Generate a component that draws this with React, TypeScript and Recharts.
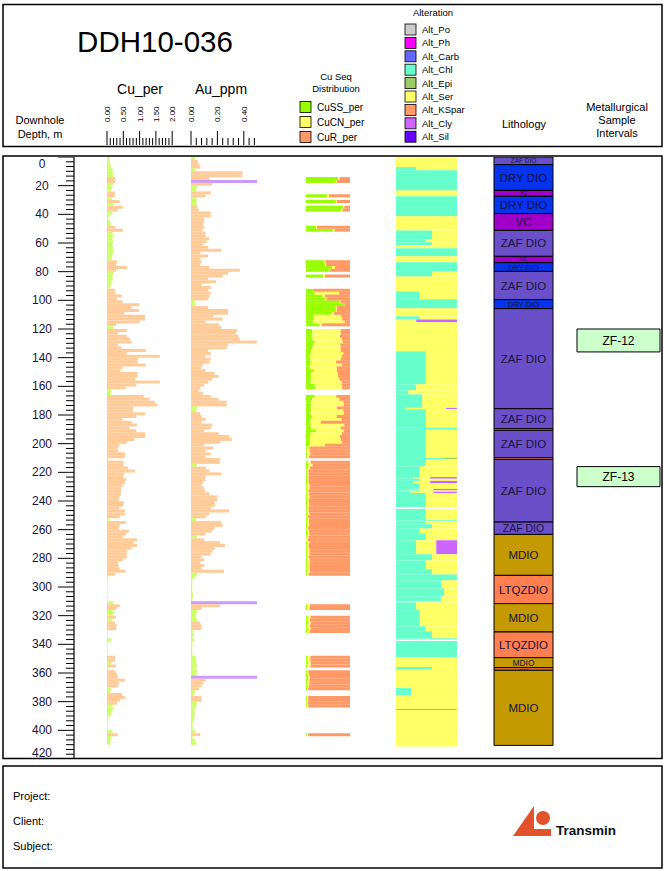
import React from "react";
import { ComposedChart, Bar, Cell, XAxis, YAxis, ReferenceArea } from "recharts";

const FONT = "'Liberation Sans', Arial, Helvetica, sans-serif";

// downhole depth, m
const DEPTH_LABELS = [0, 20, 40, 60, 80, 100, 120, 140, 160, 180, 200, 220, 240, 260, 280, 300, 320, 340, 360, 380, 400, 420];
const DEPTH_MINOR = 6; // subdivisions between labelled depths

// assays, 2 m composites starting at 0 m
const SAMPLE_LEN = 2;
const CU_PER = [
  0.07, 0.08, 0.10, 0.12, 0.17, 0.18, 0.19, 0.25, 0.25, 0.19,
  0.14, 0.12, 0.25, 0.24, 0.15, 0.39, 0.19, 0.49, 0.33, 0.17,
  0.07, 0.04, 0.10, 0.12, 0.25, 0.49, 0.17, 0.18, 0.17, 0.18,
  0.16, 0.18, 0.19, 0.18, 0.16, 0.16, 0.31, 0.28, 0.61, 0.28,
  0.19, 0.16, 0.18, 0.14, 0.12, 0.08, 0.25, 0.25, 0.45, 0.31,
  0.48, 1.00, 0.74, 0.98, 0.53, 1.17, 1.17, 1.00, 0.28, 0.19,
  0.61, 0.33, 0.61, 0.70, 0.76, 0.33, 0.43, 1.20, 0.61, 1.62,
  0.94, 0.94, 1.19, 0.48, 0.41, 0.94, 0.94, 0.86, 1.62, 0.90,
  0.58, 0.14, 0.12, 1.12, 1.31, 1.47, 1.55, 0.80, 0.79, 1.17,
  0.90, 0.47, 0.76, 0.92, 0.69, 0.89, 1.17, 1.17, 0.84, 0.61,
  0.38, 0.33, 0.35, 0.55, 0.55, 0.04, 0.51, 0.51, 0.65, 0.86,
  0.53, 0.49, 0.58, 0.55, 0.48, 0.43, 0.43, 0.43, 0.39, 0.37,
  0.51, 0.49, 0.38, 0.55, 0.55, 0.39, 0.07, 0.58, 0.39, 0.37,
  0.67, 0.59, 0.49, 0.92, 0.82, 0.92, 0.76, 0.61, 0.61, 0.61,
  0.49, 0.35, 0.35, 0.38, 0.57, 0.25, 0.04, 0.02, 0.02, 0.01,
  0.01, 0.01, 0.02, 0.02, 0.01, 0.19, 0.39, 0.29, 0.19, 0.18,
  0.27, 0.17, 0.25, 0.29, 0.29, 0.02, 0.02, 0.02, 0.14, 0.02,
  0.02, 0.02, 0.02, 0.02, 0.25, 0.25, 0.14, 0.28, 0.04, 0.26,
  0.31, 0.33, 0.55, 0.37, 0.35, 0.14, 0.10, 0.47, 0.55, 0.39,
  0.31, 0.17, 0.19, 0.14, 0.12, 0.04, 0.04, 0.03, 0.03, 0.03,
  0.17, 0.33, 0.12, 0.10, 0.10,
];
const AU_PPM = [
  0.03, 0.05, 0.06, 0.07, 0.03, 0.39, 0.39, 0.14, 0.85, 0.16,
  0.045, 0.04, 0.15, 0.11, 0.04, 0.04, 0.045, 0.05, 0.06, 0.15,
  0.15, 0.10, 0.10, 0.09, 0.10, 0.09, 0.11, 0.11, 0.14, 0.12,
  0.09, 0.13, 0.23, 0.07, 0.13, 0.07, 0.08, 0.07, 0.14, 0.37,
  0.28, 0.24, 0.13, 0.19, 0.08, 0.15, 0.13, 0.15, 0.14, 0.13,
  0.03, 0.03, 0.13, 0.28, 0.28, 0.17, 0.24, 0.11, 0.21, 0.23,
  0.35, 0.34, 0.36, 0.37, 0.50, 0.28, 0.27, 0.13, 0.15, 0.11,
  0.15, 0.14, 0.09, 0.08, 0.11, 0.18, 0.21, 0.16, 0.13, 0.10,
  0.07, 0.06, 0.09, 0.15, 0.21, 0.27, 0.27, 0.045, 0.04, 0.07,
  0.08, 0.11, 0.08, 0.16, 0.15, 0.10, 0.21, 0.29, 0.31, 0.22,
  0.10, 0.17, 0.11, 0.15, 0.11, 0.22, 0.22, 0.045, 0.115, 0.14,
  0.23, 0.11, 0.11, 0.09, 0.08, 0.10, 0.11, 0.14, 0.20, 0.20,
  0.18, 0.18, 0.15, 0.29, 0.14, 0.11, 0.04, 0.23, 0.24, 0.18,
  0.16, 0.11, 0.045, 0.10, 0.22, 0.26, 0.18, 0.16, 0.15, 0.08,
  0.10, 0.07, 0.10, 0.08, 0.25, 0.045, 0.03, 0.01, 0.01, 0.01,
  0.01, 0.01, 0.015, 0.015, 0.01, 0.72, 0.22, 0.08, 0.045, 0.04,
  0.04, 0.045, 0.07, 0.08, 0.08, 0.013, 0.02, 0.013, 0.025, 0.01,
  0.01, 0.01, 0.01, 0.01, 0.035, 0.035, 0.04, 0.045, 0.03, 0.045,
  0.04, 0.66, 0.11, 0.09, 0.08, 0.06, 0.03, 0.02, 0.08, 0.08,
  0.045, 0.04, 0.025, 0.03, 0.025, 0.025, 0.02, 0.013, 0.013, 0.013,
  0.03, 0.07, 0.013, 0.03, 0.04,
];

const CU_SCALE_LABELS = ["0.00", "0.50", "1.00", "1.50", "2.00"];
const AU_SCALE_LABELS = ["0.00", "0.20", "0.40"];

// sequential Cu: [from m, CuSS %, CuCN %, CuR %]
const CU_SEQ = [
  [14, 73, 4, 23], [16, 68, 2, 30], [26, 48, 4, 48], [30, 68, 2, 30],
  [34, 85, 2, 13], [36, 81, 2, 17], [48, 23, 2, 75], [50, 62, 3, 35],
  [72, 41, 3, 56], [74, 44, 2, 54], [76, 59, 7, 34], [78, 53, 2, 45],
  [82, 39, 4, 57], [92, 18, 0, 82], [94, 20, 55, 25], [96, 38, 5, 57],
  [98, 45, 2, 53], [100, 77, 2, 21], [102, 88, 0, 12], [104, 68, 2, 30],
  [106, 68, 2, 30], [108, 60, 3, 37], [110, 17, 63, 20], [112, 18, 64, 18],
  [114, 16, 72, 12], [116, 30, 6, 64],
  [120, 14, 65, 21], [122, 15, 64, 21], [124, 13, 64, 23], [126, 15, 66, 19],
  [128, 20, 64, 16], [130, 17, 61, 22], [132, 14, 65, 21], [134, 12, 67, 21],
  [136, 11, 74, 15], [138, 8, 73, 19], [140, 9, 70, 21], [142, 12, 56, 32],
  [144, 9, 73, 18], [146, 8, 62, 30], [148, 18, 52, 30], [150, 11, 61, 28],
  [152, 12, 61, 27], [154, 11, 65, 24], [156, 11, 71, 18], [158, 20, 61, 19],
  [160, 21, 61, 18],
  [166, 20, 49, 31], [168, 14, 62, 24], [170, 11, 74, 15], [172, 12, 74, 14],
  [174, 11, 59, 30], [176, 11, 74, 15], [178, 9, 77, 14], [180, 14, 56, 30],
  [182, 11, 70, 19], [184, 10, 24, 66], [186, 11, 76, 13], [188, 12, 67, 21],
  [190, 24, 62, 14], [192, 11, 71, 18], [194, 9, 68, 23], [196, 8, 71, 21],
  [198, 9, 73, 18], [200, 8, 35, 57], [202, 2, 6, 92], [204, 2, 6, 92],
  [206, 2, 8, 90], [208, 2, 5, 93],
  [212, 3, 8, 89], [214, 6, 9, 85], [216, 4, 5, 91], [218, 2, 4, 94],
  [220, 3, 3, 94], [222, 2, 4, 94], [224, 4, 2, 94], [226, 3, 3, 94],
  [228, 2, 6, 92], [230, 3, 5, 92], [232, 2, 4, 94], [234, 3, 4, 93],
  [236, 2, 6, 92], [238, 4, 3, 93], [240, 3, 4, 93], [242, 2, 5, 93],
  [244, 3, 3, 94], [246, 2, 4, 94], [248, 3, 5, 92], [250, 2, 3, 95],
  [252, 3, 4, 93], [254, 2, 5, 93], [256, 3, 4, 93], [258, 2, 3, 95],
  [260, 3, 4, 93], [262, 3, 5, 92], [264, 2, 4, 94], [266, 0, 4, 96],
  [268, 3, 5, 92], [270, 2, 4, 94], [272, 3, 4, 93], [274, 2, 6, 92],
  [276, 3, 5, 92], [278, 2, 4, 94], [280, 3, 6, 91], [282, 2, 6, 92],
  [284, 3, 5, 92], [286, 2, 6, 92], [288, 4, 5, 91], [290, 2, 4, 94],
  [312, 3, 6, 91], [314, 3, 5, 92], [320, 4, 7, 89], [322, 3, 6, 91],
  [324, 5, 6, 89], [326, 3, 6, 91], [328, 4, 7, 89], [330, 3, 5, 92],
  [348, 3, 7, 90], [350, 3, 7, 90], [352, 4, 7, 89], [354, 3, 7, 90],
  [358, 3, 3, 94], [360, 2, 5, 93], [362, 5, 4, 91], [364, 3, 5, 92],
  [366, 2, 6, 92], [368, 4, 3, 93], [370, 3, 2, 95],
  [376, 2, 3, 95], [378, 2, 3, 95], [380, 2, 2, 96], [382, 2, 3, 95],
  [402, 2, 3, 95],
];

// alteration, share of column width: [from, to, Chl, Ser, Epi, Cly]
const ALTERATION = [
  [0, 7, 0, 100, 0, 0], [7, 9.3, 33, 67, 0, 0], [9.3, 23.3, 100, 0, 0, 0],
  [23.3, 27.4, 0, 100, 0, 0], [27.4, 41.4, 100, 0, 0, 0], [41.4, 51.2, 0, 100, 0, 0],
  [51.2, 57.7, 59, 41, 0, 0], [57.7, 59.5, 49, 51, 0, 0], [59.5, 61.6, 59, 41, 0, 0],
  [61.6, 63.7, 0, 100, 0, 0], [63.7, 69.3, 100, 0, 0, 0], [69.3, 73.5, 0, 100, 0, 0],
  [73.5, 79.8, 100, 0, 0, 0], [79.8, 83.3, 59, 41, 0, 0], [83.3, 93.7, 0, 100, 0, 0],
  [93.7, 99.3, 39, 61, 0, 0], [99.3, 105.6, 100, 0, 0, 0], [105.6, 111.2, 0, 100, 0, 0],
  [111.2, 113.3, 39, 61, 0, 0], [113.3, 115.3, 0, 33, 0, 67], [115.3, 135.6, 0, 100, 0, 0],
  [135.6, 158.6, 49, 51, 0, 0], [158.6, 162.8, 33, 67, 0, 0], [162.8, 165.6, 20, 80, 0, 0],
  [165.6, 175, 43, 57, 0, 0], [175, 176, 16, 66, 0, 18], [176, 188.8, 49, 51, 0, 0],
  [188.8, 190.2, 100, 0, 0, 0], [190.2, 209.8, 49, 51, 0, 0], [209.8, 210.7, 79, 0, 21, 0],
  [210.7, 215.8, 49, 51, 0, 0], [215.8, 223.3, 39, 61, 0, 0], [223.3, 224.5, 28, 28, 0, 44],
  [224.5, 226, 39, 61, 0, 0], [226, 227.7, 28, 28, 0, 44], [227.7, 231.6, 39, 61, 0, 0],
  [231.6, 232.6, 24, 37, 0, 39], [232.6, 233.5, 39, 61, 0, 0], [233.5, 234.4, 24, 37, 0, 39],
  [234.4, 244.2, 49, 51, 0, 0], [245.6, 253.5, 49, 51, 0, 0], [253.5, 254.2, 100, 0, 0, 0],
  [254.2, 256.3, 49, 51, 0, 0], [256.3, 259.1, 59, 41, 0, 0], [259.1, 262.6, 39, 61, 0, 0],
  [262.6, 267.4, 49, 51, 0, 0], [267.4, 277.2, 33, 33, 0, 34], [277.2, 281.4, 59, 41, 0, 0],
  [281.4, 287.7, 49, 51, 0, 0], [287.7, 291.2, 59, 41, 0, 0], [291.2, 295.3, 100, 0, 0, 0],
  [295.3, 301, 74, 26, 0, 0], [301, 306.5, 79, 21, 0, 0], [306.5, 310, 74, 26, 0, 0],
  [310.7, 315.6, 33, 67, 0, 0], [315.6, 327.4, 39, 61, 0, 0], [327.4, 330.9, 49, 51, 0, 0],
  [330.9, 335.8, 59, 41, 0, 0], [335.8, 336.7, 100, 0, 0, 0], [337.7, 348.8, 100, 0, 0, 0],
  [348.8, 355.8, 0, 100, 0, 0], [355.8, 357.7, 59, 41, 0, 0], [357.7, 370.5, 0, 100, 0, 0],
  [370.5, 375.6, 25, 75, 0, 0], [375.6, 385.1, 0, 100, 0, 0], [385.1, 385.8, 0, 0, 100, 0],
  [385.8, 411.2, 0, 100, 0, 0],
];

// lithology: [from, to, code]
const LITHOLOGY: [number, number, string][] = [
  [0, 5.3, "ZAF DIO"], [5.3, 23.3, "DRY DIO"], [23.3, 27.4, "VC"], [27.4, 39.5, "DRY DIO"],
  [39.5, 51.2, "VC"], [51.2, 69.3, "ZAF DIO"], [69.3, 73.7, "VC"], [73.7, 79.8, "DRY DIO"],
  [79.8, 99.5, "ZAF DIO"], [99.5, 105.8, "DRY DIO"], [105.8, 175.6, "ZAF DIO"],
  [175.6, 189.5, "ZAF DIO"], [189.5, 190.7, "LTQZDIO"], [190.7, 209.8, "ZAF DIO"],
  [209.8, 211, "LTQZDIO"], [211, 254.7, "ZAF DIO"], [254.7, 263.3, "ZAF DIO"],
  [263.3, 291.9, "MDIO"], [291.9, 311.6, "LTQZDIO"], [311.6, 331.4, "MDIO"],
  [331.4, 349.3, "LTQZDIO"], [349.3, 356.3, "MDIO"], [356.3, 358.1, "LTQZDIO"],
  [358.1, 410.5, "MDIO"],
];

// metallurgical sample intervals
const MET_SAMPLES: [number, number, string][] = [
  [120, 136, "ZF-12"],
  [216, 230, "ZF-13"],
];

const LITHO_COLORS: Record<string, string> = {
  "ZAF DIO": "#6A50C8",
  "DRY DIO": "#0533EE",
  VC: "#A000C8",
  MDIO: "#C49A00",
  LTQZDIO: "#FF7F50",
};

const ALT_LEGEND = [
  ["Alt_Po", "#CCCCCC"], ["Alt_Ph", "#FF00FF"], ["Alt_Carb", "#6666FF"],
  ["Alt_Chl", "#66FFCC"], ["Alt_Epi", "#99CC66"], ["Alt_Ser", "#FFFF66"],
  ["Alt_KSpar", "#FF9966"], ["Alt_Cly", "#CC66FF"], ["Alt_Sil", "#6600FF"],
];
const ALT_SERIES_COLORS = ["#66FFCC", "#FFFF66", "#99CC66", "#CC66FF"]; // Chl, Ser, Epi, Cly
const SEQ_LEGEND = [["CuSS_per", "#99FF00"], ["CuCN_per", "#FFFF66"], ["CuR_per", "#FF9966"]];

const LOW = "#CCFF66";
const MID = "#FFCC99";
const HIGH = "#CC99FF";

// page geometry
const PLOT_TOP = 156.5;
const PLOT_H = 602;
const HEADER_H = 62;
const PAD = 8;
const DEPTH_DOMAIN: [number, number] = [0, 420];

const depthTicks: number[] = [];
for (let i = 0; i < DEPTH_LABELS.length - 1; i++) {
  for (let j = 0; j < DEPTH_MINOR; j++) {
    depthTicks.push(DEPTH_LABELS[i] + ((DEPTH_LABELS[i + 1] - DEPTH_LABELS[i]) * j) / DEPTH_MINOR);
  }
}
depthTicks.push(DEPTH_LABELS[DEPTH_LABELS.length - 1]);

const cuTicks = Array.from({ length: 21 }, (_, i) => Math.round(i * 10) / 100);
const auTicks = Array.from({ length: 13 }, (_, i) => Math.round(i * 4) / 100);

const depthRows = depthTicks.map((mid) => ({ mid }));
const assayRows = CU_PER.map((cu, i) => ({ mid: i * SAMPLE_LEN + SAMPLE_LEN / 2, cu, au: AU_PPM[i] }));
const seqRows = CU_SEQ.map(([from, ss, cn, r]) => ({ mid: from + SAMPLE_LEN / 2, ss, cn, r }));
const altRows = ALTERATION.map(([from, to]) => ({ mid: (from + to) / 2 }));
const lithRows = LITHOLOGY.map(([from, to]) => ({ mid: (from + to) / 2 }));
const metRows = MET_SAMPLES.map(([from, to]) => ({ mid: (from + to) / 2 }));

const cuColor = (v: number) => (v < 0.2 ? LOW : MID);
const auColor = (v: number) => (v > 0.5 ? HIGH : v < 0.05 ? LOW : MID);

const DepthTick = (props: any) => {
  const { x, y, payload } = props;
  const v = payload.value;
  const major = DEPTH_LABELS.some((d) => Math.abs(d - v) < 1e-6);
  const first = Math.abs(v - DEPTH_LABELS[0]) < 1e-6;
  const last = Math.abs(v - DEPTH_LABELS[DEPTH_LABELS.length - 1]) < 1e-6;
  const ly = first ? y + 7 : last ? y - 6 : y;
  return (
    <g>
      <line x1={x - (major ? 16 : 8)} x2={x} y1={y} y2={y} stroke="#000" strokeWidth={1} />
      {major && (
        <text x={x - 32} y={ly} dy={4} textAnchor="middle" fontSize={12} fontFamily={FONT} fill="#14143C">
          {Math.round(v)}
        </text>
      )}
    </g>
  );
};

const ScaleTick = (props: any) => {
  const { x, y, payload, majorStep, labels } = props;
  const v = payload.value;
  const k = Math.round(v / majorStep);
  const major = Math.abs(v - k * majorStep) < 1e-6 && k < labels.length;
  const base = y - 12;
  return (
    <g>
      <line x1={x} x2={x} y1={base} y2={base - (major ? 14 : 7)} stroke="#000" strokeWidth={1} />
      {major && (
        <text
          x={x + 3}
          y={base - 23}
          transform={`rotate(-90 ${x + 3} ${base - 23})`}
          fontSize={8}
          fontFamily={FONT}
          fill="#000"
        >
          {labels[k]}
        </text>
      )}
    </g>
  );
};

const Column = ({ left, width, header = 0, data, children }: any) => (
  <div style={{ position: "absolute", left: left - PAD, top: PLOT_TOP - header }}>
    <ComposedChart
      width={width + 2 * PAD}
      height={PLOT_H + header}
      layout="vertical"
      data={data}
      margin={{ top: 0, right: PAD, bottom: 0, left: PAD }}
      barCategoryGap={0}
      barGap={0}
    >
      {children}
    </ComposedChart>
  </div>
);

// in a vertical layout the numeric category axis already runs top to bottom
const depthAxis = <YAxis type="number" dataKey="mid" domain={DEPTH_DOMAIN} hide allowDataOverflow />;

export default function App() {
  const pxPerM = PLOT_H / (DEPTH_DOMAIN[1] - DEPTH_DOMAIN[0]);
  return (
    <div style={{ position: "absolute", left: 0, top: 0, width: 664, height: 871, background: "#fff" }}>
      <svg width={664} height={871} style={{ position: "absolute", left: 0, top: 0 }} fontFamily={FONT}>
        <rect x={3} y={4.5} width={659} height={142} fill="none" stroke="#000" strokeWidth={1.5} />
        <rect x={3} y={156} width={659} height={602.5} fill="none" stroke="#000" strokeWidth={1.5} />
        <rect x={3} y={766} width={659} height={102} fill="none" stroke="#000" strokeWidth={1.5} />

        <text x={155} y={52} fontSize={29.5} textAnchor="middle">DDH10-036</text>
        <text x={140} y={94} fontSize={14} textAnchor="middle">Cu_per</text>
        <text x={221} y={94} fontSize={14} textAnchor="middle">Au_ppm</text>
        <text x={40} y={124} fontSize={11} textAnchor="middle">Downhole</text>
        <text x={40} y={138} fontSize={11} textAnchor="middle">Depth, m</text>
        <text x={524} y={128} fontSize={11} textAnchor="middle">Lithology</text>
        <text x={617} y={111} fontSize={11} textAnchor="middle">Metallurgical</text>
        <text x={617} y={124} fontSize={11} textAnchor="middle">Sample</text>
        <text x={617} y={137} fontSize={11} textAnchor="middle">Intervals</text>

        <text x={336} y={80} fontSize={9.5} textAnchor="middle">Cu Seq</text>
        <text x={336} y={92} fontSize={9.5} textAnchor="middle">Distribution</text>
        {SEQ_LEGEND.map(([name, color], i) => (
          <g key={name}>
            <rect x={300} y={101.5 + i * 15} width={11} height={11} fill={color} stroke="#000" strokeWidth={0.8} />
            <text x={317} y={110.5 + i * 15} fontSize={10}>{name}</text>
          </g>
        ))}

        <text x={433} y={16} fontSize={9.5} textAnchor="middle">Alteration</text>
        {ALT_LEGEND.map(([name, color], i) => (
          <g key={name}>
            <rect x={405} y={24 + i * 13.4} width={11} height={11} fill={color} stroke="#000" strokeWidth={0.8} />
            <text x={422} y={33 + i * 13.4} fontSize={9.5}>{name}</text>
          </g>
        ))}

        <text x={13} y={800} fontSize={11}>Project:</text>
        <text x={13} y={825} fontSize={11}>Client:</text>
        <text x={13} y={850} fontSize={11}>Subject:</text>
        <polygon points="513,836 534,806 534,829 551,829 551,836" fill="#E2522B" />
        <circle cx={543} cy={818} r={7} fill="#E2522B" />
        <text x={556} y={835} fontSize={13.5} fontWeight="bold" fill="#111">Transmin</text>
      </svg>

      {/* depth scale */}
      <div style={{ position: "absolute", left: 3, top: PLOT_TOP }}>
        <ComposedChart
          width={72}
          height={PLOT_H}
          layout="vertical"
          data={depthRows}
          margin={{ top: 0, right: 0, bottom: 0, left: 0 }}
        >
          <XAxis type="number" hide domain={[0, 1]} allowDataOverflow />
          <YAxis
            type="number"
            dataKey="mid"
            domain={DEPTH_DOMAIN}
            allowDataOverflow
            width={71}
            ticks={depthTicks}
            interval={0}
            tickSize={0}
            tickMargin={0}
            tickLine={false}
            axisLine={{ stroke: "#000", strokeWidth: 1.2 }}
            tick={<DepthTick />}
          />
        </ComposedChart>
      </div>

      {/* Cu_per */}
      <Column left={106.5} width={81.5} header={HEADER_H} data={assayRows}>
        <XAxis
          type="number"
          orientation="top"
          domain={[0, 2.5]}
          allowDataOverflow
          ticks={cuTicks}
          interval={0}
          height={HEADER_H}
          axisLine={false}
          tickLine={false}
          tickSize={0}
          tickMargin={0}
          tick={<ScaleTick majorStep={0.5} labels={CU_SCALE_LABELS} />}
        />
        {depthAxis}
        <Bar dataKey="cu" isAnimationActive={false}>
          {assayRows.map((r, i) => (
            <Cell key={`cu-${i}`} fill={cuColor(r.cu)} />
          ))}
        </Bar>
      </Column>

      {/* Au_ppm */}
      <Column left={190.5} width={66} header={HEADER_H} data={assayRows}>
        <XAxis
          type="number"
          orientation="top"
          domain={[0, 0.5]}
          allowDataOverflow
          ticks={auTicks}
          interval={0}
          height={HEADER_H}
          axisLine={false}
          tickLine={false}
          tickSize={0}
          tickMargin={0}
          tick={<ScaleTick majorStep={0.2} labels={AU_SCALE_LABELS} />}
        />
        {depthAxis}
        <Bar dataKey="au" isAnimationActive={false}>
          {assayRows.map((r, i) => (
            <Cell key={`au-${i}`} fill={auColor(r.au)} />
          ))}
        </Bar>
      </Column>

      {/* Cu sequential distribution */}
      <Column left={306} width={44} data={seqRows}>
        <XAxis type="number" hide domain={[0, 100]} allowDataOverflow />
        {depthAxis}
        <Bar dataKey="ss" stackId="seq" fill={SEQ_LEGEND[0][1]} isAnimationActive={false} />
        <Bar dataKey="cn" stackId="seq" fill={SEQ_LEGEND[1][1]} isAnimationActive={false} />
        <Bar dataKey="r" stackId="seq" fill={SEQ_LEGEND[2][1]} isAnimationActive={false} />
      </Column>

      {/* alteration */}
      <Column left={396} width={61} data={altRows}>
        <XAxis type="number" hide domain={[0, 100]} allowDataOverflow />
        {depthAxis}
        {ALTERATION.flatMap(([from, to, ...parts], i) => {
          let x = 0;
          return parts.map((p, k) => {
            const x1 = x;
            x += p;
            if (p <= 0) return null;
            return (
              <ReferenceArea
                key={`alt-${i}-${k}`}
                x1={x1}
                x2={x}
                y1={from}
                y2={to}
                fill={ALT_SERIES_COLORS[k]}
                fillOpacity={1}
                stroke="none"
                ifOverflow="visible"
              />
            );
          });
        })}
      </Column>

      {/* lithology */}
      <Column left={494} width={59} data={lithRows}>
        <XAxis type="number" hide domain={[0, 1]} allowDataOverflow />
        {depthAxis}
        {LITHOLOGY.map(([from, to, code], i) => {
          const h = (to - from) * pxPerM;
          const fs = Math.min(11.5, h * 0.85);
          return (
            <ReferenceArea
              key={`lith-${i}`}
              x1={0}
              x2={1}
              y1={from}
              y2={to}
              fill={LITHO_COLORS[code]}
              fillOpacity={1}
              stroke="#000"
              strokeWidth={1}
              ifOverflow="visible"
              label={h >= 2.5 ? { value: code, position: "center", fontSize: fs, fill: "#14143C", fontFamily: FONT } : undefined}
            />
          );
        })}
      </Column>

      {/* metallurgical samples */}
      <Column left={577} width={83} data={metRows}>
        <XAxis type="number" hide domain={[0, 1]} allowDataOverflow />
        {depthAxis}
        {MET_SAMPLES.map(([from, to, name]) => (
          <ReferenceArea
            key={name}
            x1={0}
            x2={1}
            y1={from}
            y2={to}
            fill="#CCFFCC"
            fillOpacity={1}
            stroke="#000"
            strokeWidth={1}
            ifOverflow="visible"
            label={{ value: name, position: "center", fontSize: 12, fill: "#000", fontFamily: FONT }}
          />
        ))}
      </Column>
    </div>
  );
}
